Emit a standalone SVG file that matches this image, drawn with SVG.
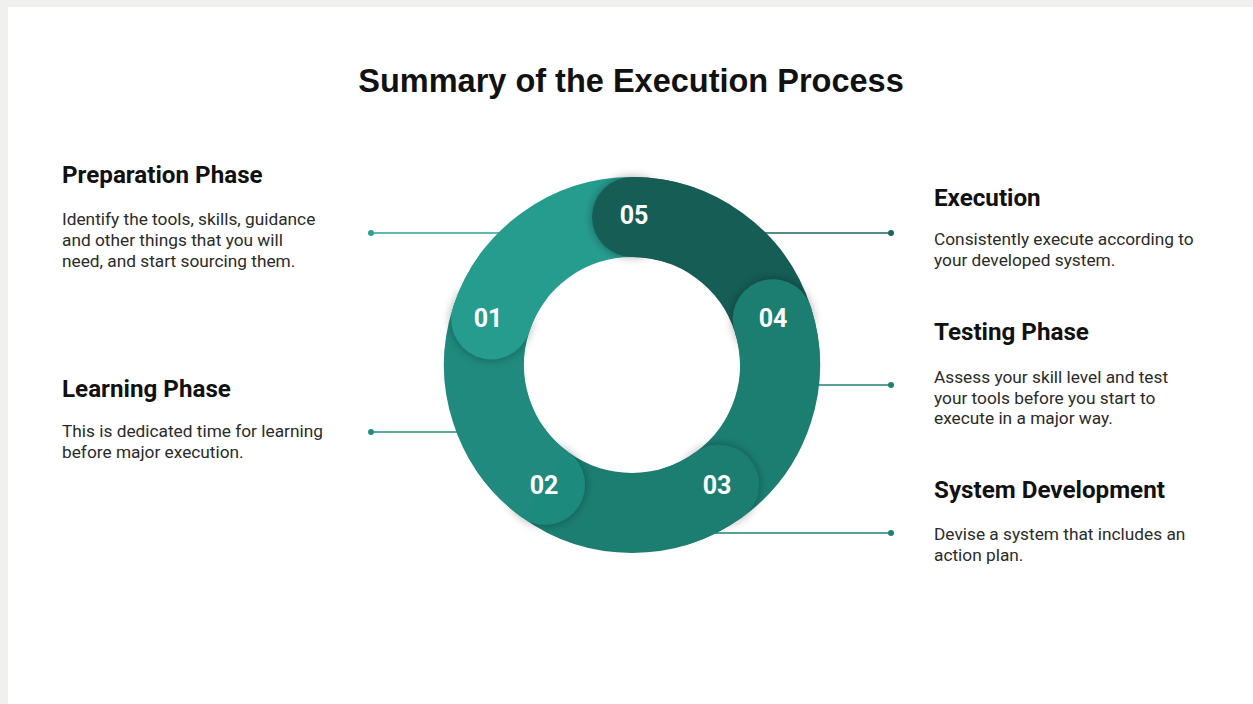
<svg xmlns="http://www.w3.org/2000/svg" width="1253" height="704" viewBox="0 0 1253 704">
  <style>
    .title { font-family: "Liberation Sans", Arial, sans-serif; font-weight: 700; font-size: 32.5px; fill: #111; }
    .head { font-family: Roboto, "Noto Sans", sans-serif; font-weight: 700; font-size: 24.2px; fill: #111; }
    .body { font-family: Roboto, "Noto Sans", sans-serif; font-size: 17.3px; fill: #2b2b2b; }
    .num { font-family: Roboto, "Noto Sans", sans-serif; font-weight: 700; font-size: 25px; fill: #ffffff; text-anchor: middle; }
    .seg { fill: none; stroke-width: 80; stroke-linecap: butt; }
    .link { stroke-width: 1.5; fill: none; }
  </style>
  <defs>
    <filter id="capShadow" x="-50%" y="-50%" width="200%" height="200%">
      <feDropShadow dx="0" dy="0" stdDeviation="5" flood-color="#000" flood-opacity="0.35"/>
    </filter>
  </defs>

  <!-- page background -->
  <rect x="0" y="0" width="1253" height="704" fill="#f0f0ef"/>
  <rect x="8" y="7" width="1245" height="697" fill="#ffffff"/>

  <text class="title" x="631" y="92" text-anchor="middle">Summary of the Execution Process</text>

  <!-- connectors (drawn beneath the ring) -->
  <g id="connectors">
    <line class="link" x1="371" y1="233" x2="600" y2="233" stroke="#2fa192"/>
    <circle cx="371" cy="233" r="3" fill="#2fa192"/>
    <line class="link" x1="371" y1="432" x2="500" y2="432" stroke="#238d80"/>
    <circle cx="371" cy="432" r="3" fill="#238d80"/>
    <line class="link" x1="891" y1="233" x2="700" y2="233" stroke="#1e6660"/>
    <circle cx="891" cy="233" r="3" fill="#1e6660"/>
    <line class="link" x1="891" y1="385" x2="780" y2="385" stroke="#1e8073"/>
    <circle cx="891" cy="385" r="3" fill="#1e8073"/>
    <line class="link" x1="891" y1="533" x2="680" y2="533" stroke="#1e8073"/>
    <circle cx="891" cy="533" r="3" fill="#1e8073"/>
  </g>

  <!-- ring body: five 72 degree arcs around (632,365), mid radius 148 -->
  <g id="ring">
    <path class="seg" stroke="#269c8f" d="M491.24,319.27 A148,148 0 0 1 632,217"/>
    <path class="seg" stroke="#165d55" d="M632,217 A148,148 0 0 1 772.76,319.27"/>
    <path class="seg" stroke="#1b7e71" d="M772.76,319.27 A148,148 0 0 1 718.99,484.73"/>
    <path class="seg" stroke="#1b7e71" d="M718.99,484.73 A148,148 0 0 1 545.01,484.73"/>
    <path class="seg" stroke="#1f8a7d" d="M545.01,484.73 A148,148 0 0 1 491.24,319.27"/>
  </g>

  <!-- rounded heads of each step, overlapping the previous step -->
  <g id="step-01">
    <circle cx="491.24" cy="319.27" r="40" fill="#269c8f" filter="url(#capShadow)"/>
    <path class="seg" stroke="#269c8f" d="M491.24,319.27 A148,148 0 0 1 515.37,273.88"/>
    <text class="num" x="488" y="327">01</text>
  </g>
  <g id="step-05">
    <circle cx="632" cy="217" r="40" fill="#165d55" filter="url(#capShadow)"/>
    <path class="seg" stroke="#165d55" d="M632,217 A148,148 0 0 1 682.62,225.93"/>
    <text class="num" x="634" y="224">05</text>
  </g>
  <g id="step-04">
    <circle cx="772.76" cy="319.27" r="40" fill="#1b7e71" filter="url(#capShadow)"/>
    <path class="seg" stroke="#1b7e71" d="M772.76,319.27 A148,148 0 0 1 779.91,370.17"/>
    <text class="num" x="773" y="327">04</text>
  </g>
  <g id="step-03">
    <circle cx="718.99" cy="484.73" r="40" fill="#1b7e71" filter="url(#capShadow)"/>
    <path class="seg" stroke="#1b7e71" d="M718.99,484.73 A148,148 0 0 1 672.79,507.27"/>
    <text class="num" x="717" y="494">03</text>
  </g>
  <g id="step-02">
    <circle cx="545.01" cy="484.73" r="40" fill="#1f8a7d" filter="url(#capShadow)"/>
    <path class="seg" stroke="#1f8a7d" d="M545.01,484.73 A148,148 0 0 1 509.30,447.76"/>
    <text class="num" x="544" y="494">02</text>
  </g>

  <!-- step descriptions -->
  <g id="preparation">
    <text class="head" x="62" y="183">Preparation Phase</text>
    <text class="body" x="62" y="225">Identify the tools, skills, guidance</text>
    <text class="body" x="62" y="246">and other things that you will</text>
    <text class="body" x="62" y="267">need, and start sourcing them.</text>
  </g>
  <g id="learning">
    <text class="head" x="62" y="397">Learning Phase</text>
    <text class="body" x="62" y="437">This is dedicated time for learning</text>
    <text class="body" x="62" y="458">before major execution.</text>
  </g>
  <g id="execution">
    <text class="head" x="934" y="206">Execution</text>
    <text class="body" x="934" y="245">Consistently execute according to</text>
    <text class="body" x="934" y="266">your developed system.</text>
  </g>
  <g id="testing">
    <text class="head" x="934" y="340">Testing Phase</text>
    <text class="body" x="934" y="383">Assess your skill level and test</text>
    <text class="body" x="934" y="404">your tools before you start to</text>
    <text class="body" x="934" y="424">execute in a major way.</text>
  </g>
  <g id="system-development">
    <text class="head" x="934" y="498">System Development</text>
    <text class="body" x="934" y="540">Devise a system that includes an</text>
    <text class="body" x="934" y="561">action plan.</text>
  </g>
</svg>
